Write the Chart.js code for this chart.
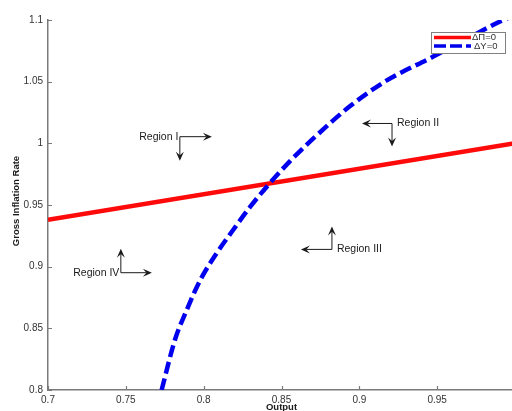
<!DOCTYPE html>
<html lang="en">
<head>
<meta charset="UTF-8">
<title>Gross Inflation Rate vs Output</title>
<script src="https://cdn.jsdelivr.net/npm/chart.js"></script>
<style>
  html, body { margin: 0; padding: 0; overflow: hidden; background: #fff; }
  canvas { display: block; }
</style>
</head>
<body>
<canvas id="grafico" width="515" height="411"></canvas>
<script>
// Curves: x = output, y = gross inflation rate
const piLineX = [0.7, 1.0];
const piLineY = [0.938, 1.0];
const outLineX = [0.7730, 0.7815, 0.7891, 0.7978, 0.8084, 0.8189, 0.8298, 0.8414, 0.8555, 0.8716, 0.8941, 0.9179, 0.9469, 0.9681, 0.9894, 0.9980];
const outLineY = [0.8000, 0.8405, 0.8648, 0.8891, 0.9110, 0.9297, 0.9484, 0.9661, 0.9856, 1.0053, 1.0302, 1.0512, 1.0699, 1.0840, 1.0982, 1.1030];

const xTicks = [0.7, 0.75, 0.8, 0.85, 0.9, 0.95, 1.0];
const xTickLabels = ['0.7', '0.75', '0.8', '0.85', '0.9', '0.95', '1'];
const yTicks = [0.8, 0.85, 0.9, 0.95, 1.0, 1.05, 1.1];
const yTickLabels = ['0.8', '0.85', '0.9', '0.95', '1', '1.05', '1.1'];
const legendLabels = ['\u0394\u03A0=0', '\u0394Y=0'];

// region labels, anchored at the arrow corner (data units), arrows in px
const regions = [
  { text: 'Region I', x: 0.7847, y: 1.0054, side: 'right', arrows: [[32, 0], [0, 24]] },
  { text: 'Region II', x: 0.9210, y: 1.0161, side: 'left', arrows: [[-30, 0], [0, 23]] },
  { text: 'Region III', x: 0.8824, y: 0.9140, side: 'left', arrows: [[-31, 0], [0, -23]] },
  { text: 'Region IV', x: 0.7468, y: 0.8951, side: 'right', arrows: [[31, 0], [0, -24]] }
];

const FONT = '"Liberation Sans", Arial, Helvetica, sans-serif';
const RED = '#ff0a0a';
const BLUE = '#0000ee';

function toPoints(xs, ys) {
  return xs.map((x, i) => ({ x: x, y: ys[i] }));
}

function arrow(ctx, x1, y1, x2, y2) {
  const ang = Math.atan2(y2 - y1, x2 - x1);
  const len = 9, half = 4;
  ctx.beginPath();
  ctx.moveTo(x1, y1);
  ctx.lineTo(x2 - Math.cos(ang) * len * 0.6, y2 - Math.sin(ang) * len * 0.6);
  ctx.stroke();
  ctx.beginPath();
  ctx.moveTo(x2, y2);
  ctx.lineTo(x2 - Math.cos(ang) * len + Math.sin(ang) * half, y2 - Math.sin(ang) * len - Math.cos(ang) * half);
  ctx.lineTo(x2 - Math.cos(ang) * len * 0.6, y2 - Math.sin(ang) * len * 0.6);
  ctx.lineTo(x2 - Math.cos(ang) * len - Math.sin(ang) * half, y2 - Math.sin(ang) * len + Math.cos(ang) * half);
  ctx.closePath();
  ctx.fill();
}

// axis ticks pointing inward, axis titles
const axesDecor = {
  id: 'axesDecor',
  afterDraw(chart) {
    const ctx = chart.ctx;
    const xs = chart.scales.x, ys = chart.scales.y;
    const a = chart.chartArea;
    ctx.save();
    ctx.strokeStyle = '#7a7a7a';
    ctx.lineWidth = 1.2;
    ctx.beginPath();
    xTicks.forEach(v => {
      const px = Math.round(xs.getPixelForValue(v)) + 0.5;
      ctx.moveTo(px, a.bottom);
      ctx.lineTo(px, a.bottom - 4);
    });
    yTicks.forEach(v => {
      const py = Math.round(ys.getPixelForValue(v)) + 0.5;
      ctx.moveTo(a.left, py);
      ctx.lineTo(a.left + 4, py);
    });
    ctx.stroke();

    ctx.fillStyle = '#1a1a1a';
    ctx.font = 'bold 9.5px ' + FONT;
    ctx.textAlign = 'center';
    ctx.textBaseline = 'top';
    ctx.fillText('Output', (a.left + a.right) / 2, 403);
    ctx.translate(16, 201);
    ctx.rotate(-Math.PI / 2);
    ctx.textBaseline = 'middle';
    ctx.fillText('Gross Inflation Rate', 0, 0);
    ctx.restore();
  }
};

// region annotations and legend box
const overlay = {
  id: 'overlay',
  afterDatasetsDraw(chart) {
    const ctx = chart.ctx;
    const xs = chart.scales.x, ys = chart.scales.y;
    ctx.save();
    ctx.strokeStyle = '#1a1a1a';
    ctx.fillStyle = '#1a1a1a';
    ctx.lineWidth = 1;
    ctx.font = '10.5px ' + FONT;
    ctx.textBaseline = 'middle';
    regions.forEach(r => {
      const cx = xs.getPixelForValue(r.x);
      const cy = ys.getPixelForValue(r.y);
      r.arrows.forEach(d => arrow(ctx, cx, cy, cx + d[0], cy + d[1]));
      if (r.side === 'right') {
        ctx.textAlign = 'right';
        ctx.fillText(r.text, cx - 1.5, cy);
      } else {
        ctx.textAlign = 'left';
        ctx.fillText(r.text, cx + 5, cy);
      }
    });

    // legend
    ctx.fillStyle = '#ffffff';
    ctx.fillRect(431, 32, 75, 21);
    ctx.strokeStyle = '#808080';
    ctx.lineWidth = 1;
    ctx.strokeRect(431.5, 32.5, 74, 21);
    ctx.lineWidth = 3.5;
    ctx.strokeStyle = RED;
    ctx.beginPath();
    ctx.moveTo(434, 37.5);
    ctx.lineTo(471, 37.5);
    ctx.stroke();
    ctx.strokeStyle = BLUE;
    ctx.setLineDash([12, 4]);
    ctx.beginPath();
    ctx.moveTo(434, 46);
    ctx.lineTo(471, 46);
    ctx.stroke();
    ctx.setLineDash([]);
    ctx.fillStyle = '#333';
    ctx.font = '9.5px ' + FONT;
    ctx.textAlign = 'left';
    ctx.fillText(legendLabels[0], 472, 37.5);
    ctx.fillText(legendLabels[1], 474, 46);
    ctx.restore();
  }
};

new Chart(document.getElementById('grafico'), {
  type: 'scatter',
  data: {
    datasets: [
      {
        label: legendLabels[1],
        data: toPoints(outLineX, outLineY),
        showLine: true,
        borderColor: BLUE,
        borderWidth: 4.5,
        borderDash: [12, 5],
        pointRadius: 0,
        cubicInterpolationMode: 'monotone'
      },
      {
        label: legendLabels[0],
        data: toPoints(piLineX, piLineY),
        showLine: true,
        borderColor: RED,
        borderWidth: 4.5,
        pointRadius: 0
      }
    ]
  },
  options: {
    responsive: false,
    animation: false,
    layout: { padding: { left: 0, right: 0, top: 20, bottom: 0 } },
    plugins: {
      legend: { display: false },
      tooltip: { enabled: false }
    },
    scales: {
      x: {
        type: 'linear',
        min: 0.7,
        max: 1.0,
        afterBuildTicks: s => { s.ticks = xTicks.map(v => ({ value: v })); },
        afterFit: s => { s.height = 21; s.paddingRight = 0; },
        grid: { display: false, drawTicks: false },
        border: { display: true, color: '#7a7a7a', width: 1.5 },
        ticks: {
          padding: 4,
          maxRotation: 0,
          autoSkip: false,
          color: '#333',
          font: { family: FONT, size: 10 },
          callback: (v, i) => xTickLabels[i]
        }
      },
      y: {
        type: 'linear',
        min: 0.8,
        max: 1.1,
        afterBuildTicks: s => { s.ticks = yTicks.map(v => ({ value: v })); },
        afterFit: s => { s.width = 48; },
        grid: { display: false, drawTicks: false },
        border: { display: true, color: '#7a7a7a', width: 1.5 },
        ticks: {
          padding: 5,
          autoSkip: false,
          color: '#333',
          font: { family: FONT, size: 10 },
          callback: (v, i) => yTickLabels[i]
        }
      }
    }
  },
  plugins: [axesDecor, overlay]
});
</script>
</body>
</html>
